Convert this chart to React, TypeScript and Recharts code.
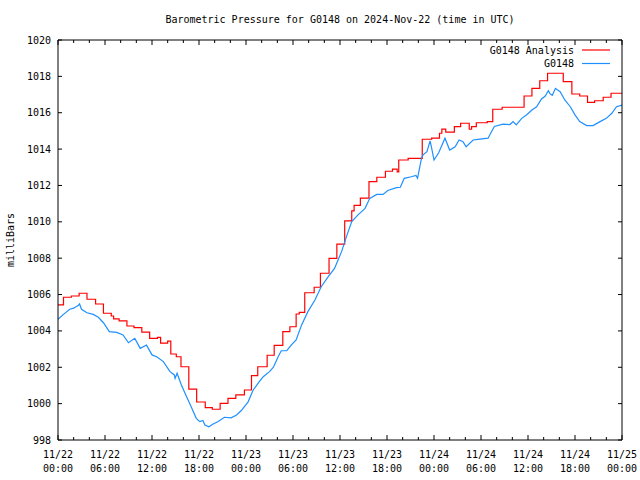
import { LineChart, Line, XAxis, YAxis } from 'recharts'

// hours since 11/22 00:00 UTC; analysis holds each value until the next change
const analysisHours = [
  0, 0.7, 1.7, 2.7, 3.7, 4.8, 5.8, 6.8, 7.1, 7.8, 8.8, 9.7, 10.7, 11.7, 12.7, 13.1, 14.0, 14.4,
  15.1, 15.7, 16.7, 17.7, 18.8, 19.7, 20.7, 21.7, 22.7, 23.8, 24.7, 25.5, 26.7, 27.6, 28.7, 29.6,
  30.4, 30.8, 31.5, 32.7, 33.5, 34.6, 35.6, 36.6, 37.5, 37.8, 38.6, 39.7, 40.7, 41.8, 42.7, 43.3,
  43.5, 44.7, 46.5, 47.7, 48.7, 49.0, 49.5, 50.6, 51.4, 52.5, 52.8, 53.4, 54.8, 55.5, 56.7, 59.5,
  60.5, 61.5, 62.5, 64.5, 65.6, 66.6, 67.6, 68.5, 69.6, 70.6, 72,
]
const analysisValues = [
  1005.43, 1005.85, 1005.92, 1006.07, 1005.74, 1005.48, 1004.97, 1004.82, 1004.66, 1004.55,
  1004.27, 1004.18, 1003.93, 1003.59, 1003.64, 1003.33, 1003.44, 1002.73, 1002.58, 1002.03,
  1000.8, 1000.09, 999.78, 999.69, 1000.01, 1000.29, 1000.48, 1000.75, 1001.54, 1002.03,
  1002.66, 1003.2, 1003.96, 1004.23, 1004.93, 1005.02, 1006.1, 1006.4, 1007.17, 1007.99,
  1008.77, 1010.05, 1010.6, 1010.9, 1011.3, 1012.21, 1012.45, 1012.78, 1012.9, 1012.75,
  1013.4, 1013.49, 1014.54, 1014.6, 1014.87, 1015.1, 1014.93, 1015.24, 1015.42, 1015.09,
  1015.24, 1015.45, 1015.51, 1016.19, 1016.3, 1016.92, 1017.34, 1017.76, 1018.17, 1017.71,
  1017.03, 1016.92, 1016.57, 1016.66, 1016.85, 1017.07, 1017.07,
]

const sensorHours = [
  0, 0.7, 1.5, 2.0, 2.6, 2.75, 3.0, 3.7, 4.5, 5.15, 5.8, 6.55, 7.5, 8.3, 9.0, 9.8, 10.5, 11.3,
  12.0, 12.6, 13.45, 14.3, 14.85, 14.95, 15.2, 15.75, 16.4, 17.0, 17.65, 18.1, 18.5, 18.75,
  19.25, 19.8, 20.4, 21.25, 22.1, 22.8, 23.4, 24.27, 24.9, 25.6, 26.2, 27.0, 27.5, 28.1, 28.5,
  29.2, 29.8, 30.4, 31.1, 31.9, 32.8, 33.6, 34.5, 35.3, 36.2, 36.9, 37.5, 38.3, 39.2, 39.8,
  40.7, 41.5, 42.1, 43.2, 43.7, 44.2, 45.1, 45.7, 45.9, 46.4, 46.6, 47.1, 47.5, 47.7, 48.0,
  48.6, 49.4, 50.0, 50.7, 51.2, 51.7, 52.1, 53.0, 53.6, 54.9, 55.7, 56.8, 57.7, 58.1, 58.5,
  59.2, 59.8, 60.5, 61.1, 61.7, 62.2, 62.6, 62.8, 63.1, 63.5, 64.1, 64.7, 65.4, 66.0, 66.6,
  67.5, 68.3, 69.2, 70.0, 70.7, 71.3, 72,
]
const sensorValues = [
  1004.64, 1004.91, 1005.19, 1005.25, 1005.41, 1005.48, 1005.19, 1005.0, 1004.91, 1004.75,
  1004.45, 1003.96, 1003.92, 1003.78, 1003.35, 1003.59, 1003.04, 1003.22, 1002.68, 1002.58,
  1002.31, 1001.76, 1001.58, 1001.39, 1001.67, 1001.03, 1000.39, 999.83, 999.19, 999.01,
  999.07, 998.82, 998.73, 998.88, 999.0, 999.25, 999.22, 999.38, 999.62, 1000.1, 1000.74,
  1001.15, 1001.48, 1001.76, 1002.0, 1002.58, 1002.91, 1002.91, 1003.23, 1003.5, 1004.33,
  1005.06, 1005.7, 1006.43, 1006.98, 1007.44, 1008.36, 1009.28, 1010.01, 1010.38, 1010.74,
  1011.29, 1011.51, 1011.51, 1011.72, 1011.88, 1011.9, 1012.39, 1012.48, 1012.55, 1012.39,
  1013.49, 1013.68, 1013.86, 1014.45, 1014.05, 1013.4, 1013.8, 1014.6, 1013.95, 1014.13,
  1014.5, 1014.41, 1014.13, 1014.5, 1014.53, 1014.6, 1015.24, 1015.37, 1015.35, 1015.51,
  1015.33, 1015.69, 1015.88, 1016.15, 1016.33, 1016.74, 1016.92, 1017.21, 1017.05, 1016.96,
  1017.34, 1017.16, 1016.7, 1016.33, 1015.88, 1015.51, 1015.29, 1015.29, 1015.51, 1015.69,
  1015.97, 1016.33, 1016.42,
]

const xTickHours = [0, 6, 12, 18, 24, 30, 36, 42, 48, 54, 60, 66, 72]
const xTickLabels = [
  '11/22 00:00', '11/22 06:00', '11/22 12:00', '11/22 18:00', '11/23 00:00', '11/23 06:00',
  '11/23 12:00', '11/23 18:00', '11/24 00:00', '11/24 06:00', '11/24 12:00', '11/24 18:00',
  '11/25 00:00',
]
const xMinorHours = [
  0, 2, 4, 6, 8, 10, 12, 14, 16, 18, 20, 22, 24, 26, 28, 30, 32, 34, 36, 38, 40, 42, 44, 46, 48,
  50, 52, 54, 56, 58, 60, 62, 64, 66, 68, 70, 72,
]
const yTicks = [998, 1000, 1002, 1004, 1006, 1008, 1010, 1012, 1014, 1016, 1018, 1020]

const analysisData = analysisHours.map((t, i) => ({ t, v: analysisValues[i] }))
const sensorData = sensorHours.map((t, i) => ({ t, v: sensorValues[i] }))

const FONT = '"DejaVu Sans Mono", monospace'
const RED = '#ff0000'
const BLUE = '#1e90ff'
const X_DOMAIN: [number, number] = [0, 72]
const Y_DOMAIN: [number, number] = [998, 1020]
const TIC_GAP = 7 // tickSize 5 + tickMargin 2 on the labelled axes
const MAJOR = 5
const MINOR = 3
const Y_TIC = 4

const ticLen = (v: number) => (xTickHours.includes(v) ? MAJOR : MINOR)

// bottom axis: inward tic + two-line label on major hours
const BottomTick = ({ x, y, payload }: any) => {
  const idx = xTickHours.indexOf(payload.value)
  const axisY = y - TIC_GAP
  const [day, time] = idx >= 0 ? xTickLabels[idx].split(' ') : ['', '']
  return (
    <g>
      <line x1={x} x2={x} y1={axisY} y2={axisY - ticLen(payload.value)} stroke="#000" />
      {idx >= 0 && (
        <text x={x} y={y} textAnchor="middle" fontSize={10} fontFamily={FONT} fill="#000">
          <tspan x={x} dy={11}>{day}</tspan>
          <tspan x={x} dy={14}>{time}</tspan>
        </text>
      )}
    </g>
  )
}

// mirrored axes with zero tick size: x/y sit on the border itself
const TopTick = ({ x, y, payload }: any) => (
  <line x1={x} x2={x} y1={y} y2={y + ticLen(payload.value)} stroke="#000" />
)
const RightTick = ({ x, y }: any) => (
  <line x1={x} x2={x - Y_TIC} y1={y} y2={y} stroke="#000" />
)

const LeftTick = ({ x, y, payload }: any) => (
  <g>
    <line x1={x + TIC_GAP} x2={x + TIC_GAP + Y_TIC} y1={y} y2={y} stroke="#000" />
    <text x={x} y={y} dy="0.355em" textAnchor="end" fontSize={10} fontFamily={FONT} fill="#000">
      {payload.value}
    </text>
  </g>
)

export default function App() {
  const axisStroke = { stroke: '#000' }
  return (
    <div style={{ position: 'relative', width: 640, height: 480, background: '#fff' }}>
      <style>{'body{margin:0}'}</style>
      <LineChart width={640} height={480} margin={{ top: 40, right: 18, bottom: 0, left: 8 }}>
        <XAxis xAxisId="x" dataKey="t" type="number" domain={X_DOMAIN} allowDataOverflow
          ticks={xMinorHours} interval={0} height={40} tickLine={false} tickSize={5} tickMargin={2}
          axisLine={axisStroke} tick={<BottomTick />} />
        <XAxis xAxisId="top" dataKey="t" type="number" domain={X_DOMAIN} allowDataOverflow
          orientation="top" mirror ticks={xMinorHours} interval={0} tickLine={false} tickSize={0}
          tickMargin={0} axisLine={axisStroke} tick={<TopTick />} />

        <YAxis yAxisId="y" type="number" domain={Y_DOMAIN} allowDataOverflow ticks={yTicks}
          interval={0} width={50} tickLine={false} tickSize={5} tickMargin={2} axisLine={axisStroke}
          tick={<LeftTick />} />
        <YAxis yAxisId="yr" type="number" domain={Y_DOMAIN} allowDataOverflow ticks={yTicks}
          interval={0} orientation="right" mirror tickSize={0} tickMargin={0} axisLine={axisStroke}
          tickLine={false} tick={<RightTick />} />

        <Line xAxisId="x" yAxisId="y" data={analysisData} dataKey="v" type="stepAfter"
          stroke={RED} strokeWidth={1.2} dot={false} isAnimationActive={false} />
        <Line xAxisId="top" yAxisId="yr" data={sensorData} dataKey="v" type="linear"
          stroke={BLUE} strokeWidth={1.2} dot={false} isAnimationActive={false} />
      </LineChart>

      <svg width={640} height={480} style={{ position: 'absolute', left: 0, top: 0, pointerEvents: 'none' }}>
        <g fontFamily={FONT} fontSize={10} fill="#000">
          <text x={340} y={23} textAnchor="middle">Barometric Pressure for G0148 on 2024-Nov-22 (time in UTC)</text>
          <text x={574} y={53.5} textAnchor="end">G0148 Analysis</text>
          <text x={574} y={67} textAnchor="end">G0148</text>
          <text transform="translate(13.5,240) rotate(-90)" textAnchor="middle">milliBars</text>
        </g>
        <line x1={582} x2={610} y1={50} y2={50} stroke={RED} strokeWidth={1.2} />
        <line x1={582} x2={610} y1={63.5} y2={63.5} stroke={BLUE} strokeWidth={1.2} />
      </svg>
    </div>
  )
}
